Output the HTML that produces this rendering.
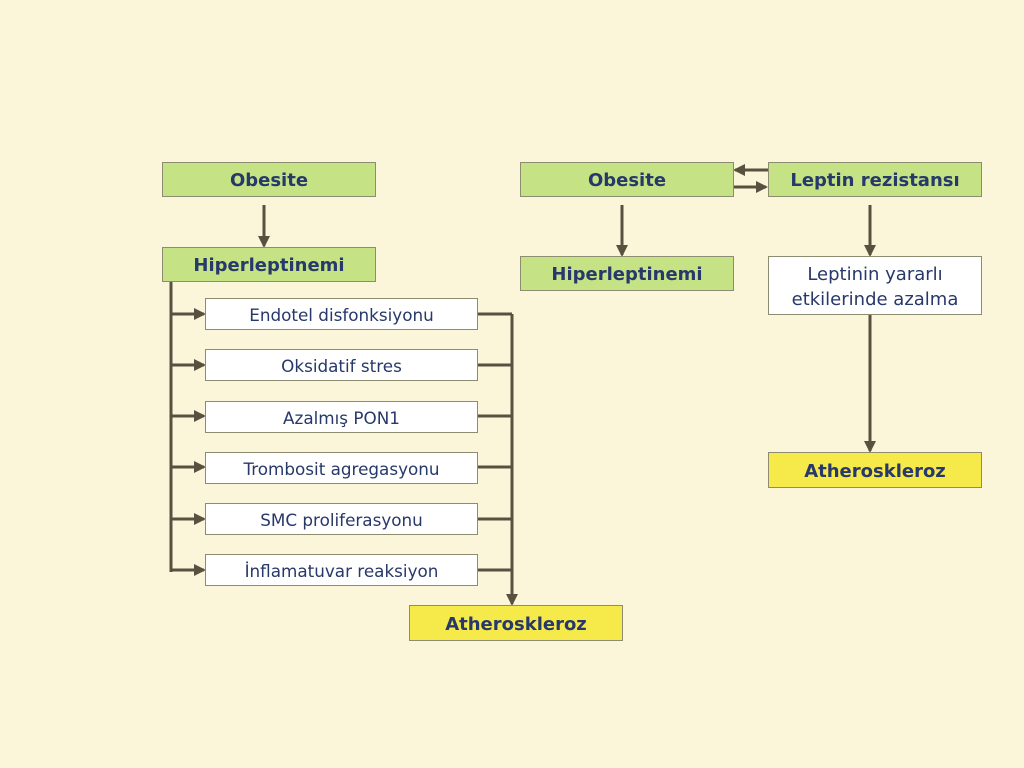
<!DOCTYPE html>
<html><head><meta charset="utf-8"><style>
body{margin:0;width:1024px;height:768px;background:#FBF6DA;position:relative;overflow:hidden;font-family:"DejaVu Sans","Liberation Sans",sans-serif;color:#27386A}
.b{position:absolute;box-sizing:border-box;border:1px solid #8C8C70;display:flex;align-items:center;justify-content:center;text-align:center;padding-top:2px}
.g{background:#C5E384;font-weight:bold;font-size:18px}
.y{background:#F6E94A;font-weight:bold;font-size:18px}
.w{background:#fff;font-size:16.8px}
svg{position:absolute;left:0;top:0}
</style></head><body>
<svg width="1024" height="768"><defs><marker id="a" markerWidth="12" markerHeight="12" refX="10" refY="6" orient="auto" markerUnits="userSpaceOnUse"><path d="M0,0L12,6L0,12z" fill="#5A5040"/></marker></defs>
<g stroke="#5A5040" stroke-width="3" fill="none">
<line x1="264" y1="205" x2="264" y2="246" marker-end="url(#a)"/>
<line x1="171" y1="282" x2="171" y2="572"/>
<line x1="171" y1="314" x2="204" y2="314" marker-end="url(#a)"/>
<line x1="171" y1="365" x2="204" y2="365" marker-end="url(#a)"/>
<line x1="171" y1="416" x2="204" y2="416" marker-end="url(#a)"/>
<line x1="171" y1="467" x2="204" y2="467" marker-end="url(#a)"/>
<line x1="171" y1="519" x2="204" y2="519" marker-end="url(#a)"/>
<line x1="171" y1="570" x2="204" y2="570" marker-end="url(#a)"/>
<path d="M477,314H512M477,365H512M477,416H512M477,467H512M477,519H512M477,570H512"/>
<line x1="512" y1="314" x2="512" y2="604" marker-end="url(#a)"/>
<line x1="768" y1="170" x2="735" y2="170" marker-end="url(#a)"/>
<line x1="733" y1="187" x2="766" y2="187" marker-end="url(#a)"/>
<line x1="622" y1="205" x2="622" y2="255" marker-end="url(#a)"/>
<line x1="870" y1="205" x2="870" y2="255" marker-end="url(#a)"/>
<line x1="870" y1="314" x2="870" y2="451" marker-end="url(#a)"/>
</g></svg>
<div class="b g" style="left:162px;top:162px;width:214px;height:35px">Obesite</div>
<div class="b g" style="left:162px;top:247px;width:214px;height:35px">Hiperleptinemi</div>
<div class="b w" style="left:205px;top:298px;width:273px;height:32px">Endotel disfonksiyonu</div>
<div class="b w" style="left:205px;top:349px;width:273px;height:32px">Oksidatif stres</div>
<div class="b w" style="left:205px;top:401px;width:273px;height:32px">Azalmış PON1</div>
<div class="b w" style="left:205px;top:452px;width:273px;height:32px">Trombosit agregasyonu</div>
<div class="b w" style="left:205px;top:503px;width:273px;height:32px">SMC proliferasyonu</div>
<div class="b w" style="left:205px;top:554px;width:273px;height:32px">İnflamatuvar reaksiyon</div>
<div class="b y" style="left:409px;top:605px;width:214px;height:36px">Atheroskleroz</div>
<div class="b g" style="left:520px;top:162px;width:214px;height:35px">Obesite</div>
<div class="b g" style="left:768px;top:162px;width:214px;height:35px">Leptin rezistansı</div>
<div class="b g" style="left:520px;top:256px;width:214px;height:35px">Hiperleptinemi</div>
<div class="b w" style="left:768px;top:256px;width:214px;height:59px;font-size:18px;line-height:25px">Leptinin yararlı<br>etkilerinde azalma</div>
<div class="b y" style="left:768px;top:452px;width:214px;height:36px">Atheroskleroz</div>
</body></html>
